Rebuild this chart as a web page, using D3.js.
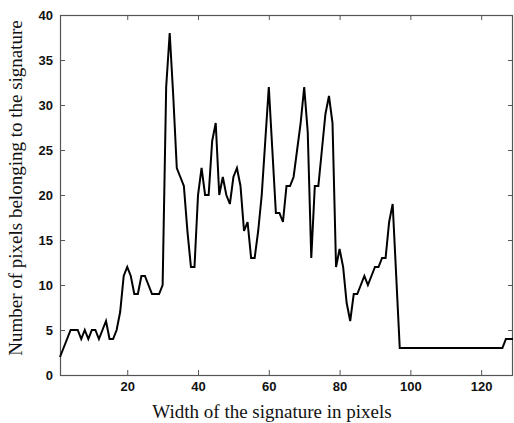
<!DOCTYPE html>
<html>
<head>
<meta charset="utf-8">
<script src="https://cdn.jsdelivr.net/npm/d3@7"></script>
<style>
  body { margin: 0; background: #fff; }
  .tick text { font-family: Arial, "Liberation Sans", sans-serif; font-weight: bold; font-size: 13px; fill: #111; }
  .axis-label { font-family: "Times New Roman", "Liberation Serif", serif; font-size: 19px; fill: #111; }
</style>
</head>
<body>
<div id="chart"></div>
<script>
// signature width (pixels) 1..129 and number of pixels per width
var widths = d3.range(1, 130);
var counts = [
    2, 3, 4, 5, 5, 5, 4, 5, 4, 5,
    5, 4, 5, 6, 4, 4, 5, 7, 11, 12,
    11, 9, 9, 11, 11, 10, 9, 9, 9, 10,
    32, 38, 31, 23, 22, 21, 16, 12, 12, 20,
    23, 20, 20, 26, 28, 20, 22, 20, 19, 22,
    23, 21, 16, 17, 13, 13, 16, 20, 26, 32,
    25, 18, 18, 17, 21, 21, 22, 25, 28, 32,
    27, 13, 21, 21, 25, 29, 31, 28, 12, 14,
    12, 8, 6, 9, 9, 10, 11, 10, 11, 12,
    12, 13, 13, 17, 19, 11, 3, 3, 3, 3,
    3, 3, 3, 3, 3, 3, 3, 3, 3, 3,
    3, 3, 3, 3, 3, 3, 3, 3, 3, 3,
    3, 3, 3, 3, 3, 3, 4, 4, 4
];
var xTicks = [20, 40, 60, 80, 100, 120];
var yTicks = [0, 5, 10, 15, 20, 25, 30, 35, 40];

var W = 514, H = 423;
var margin = { left: 60, right: 1, top: 15, bottom: 48 };

var svg = d3.select('#chart').append('svg')
    .attr('width', W)
    .attr('height', H);

var x = d3.scaleLinear().domain([1, 129]).range([margin.left, W - margin.right]);
var y = d3.scaleLinear().domain([0, 40]).range([H - margin.bottom, margin.top]);

var axisColor = '#555';

function styleAxis(g) {
    g.select('.domain').remove();
    g.selectAll('.tick line').attr('stroke', axisColor);
}

// bottom / left with labels, top / right ticks only (inward)
svg.append('g')
    .attr('transform', 'translate(0,' + y(0) + ')')
    .call(d3.axisBottom(x).tickValues(xTicks).tickSize(-5).tickPadding(7))
    .call(styleAxis);
svg.append('g')
    .attr('transform', 'translate(' + x(1) + ',0)')
    .call(d3.axisLeft(y).tickValues(yTicks).tickSize(-5).tickPadding(7))
    .call(styleAxis);
svg.append('g')
    .attr('transform', 'translate(0,' + y(40) + ')')
    .call(d3.axisTop(x).tickValues(xTicks).tickSize(-5).tickFormat(''))
    .call(styleAxis);
svg.append('g')
    .attr('transform', 'translate(' + x(129) + ',0)')
    .call(d3.axisRight(y).tickValues(yTicks).tickSize(-5).tickFormat(''))
    .call(styleAxis);

// frame
svg.append('rect')
    .attr('x', x(1) + 0.5)
    .attr('y', y(40) + 0.5)
    .attr('width', x(129) - x(1) - 1)
    .attr('height', y(0) - y(40))
    .attr('fill', 'none')
    .attr('stroke', axisColor)
    .attr('stroke-width', 1.2);

var line = d3.line()
    .x(function(d, i) { return x(widths[i]); })
    .y(function(d) { return y(d); });

svg.append('path')
    .datum(counts)
    .attr('d', line)
    .attr('fill', 'none')
    .attr('stroke', '#000')
    .attr('stroke-width', 2)
    .attr('stroke-linejoin', 'miter');

svg.append('text')
    .attr('class', 'axis-label')
    .attr('x', 272)
    .attr('y', 418)
    .attr('text-anchor', 'middle')
    .text('Width of the signature in pixels');

svg.append('text')
    .attr('class', 'axis-label')
    .attr('transform', 'translate(22,188) rotate(-90)')
    .attr('text-anchor', 'middle')
    .text('Number of pixels belonging to the signature');
</script>
</body>
</html>
